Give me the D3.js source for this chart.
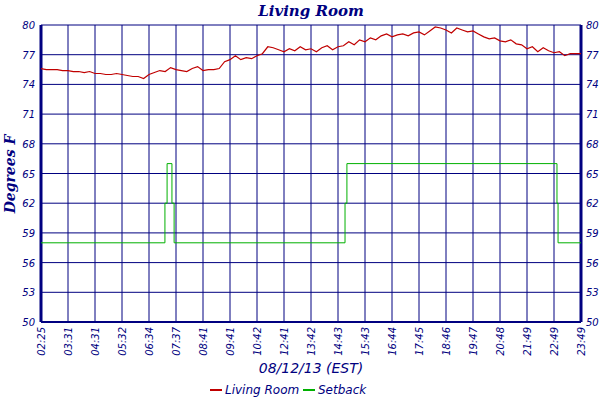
<!DOCTYPE html><html><head><meta charset="utf-8"><script src="https://d3js.org/d3.v7.min.js"></script>
<style>body{margin:0;background:#fff}</style></head><body><svg width="600" height="400"></svg>
<script>
const timeLabels=["02:25","03:31","04:31","05:32","06:34","07:37","08:41","09:41","10:42","12:41","13:42","14:43","15:43","16:44","17:45","18:46","19:47","20:48","21:49","22:49","23:49"];
const yTicks=[50,53,56,59,62,65,68,71,74,77,80];
const tempValues=[75.6,75.5,75.5,75.5,75.4,75.4,75.3,75.3,75.2,75.3,75.1,75.1,75.0,75.0,75.1,75.0,74.9,74.8,74.8,74.6,
75.0,75.2,75.4,75.3,75.7,75.5,75.4,75.3,75.6,75.8,75.4,75.5,75.5,75.6,76.3,76.5,76.9,76.5,76.7,76.6,
76.9,77.1,77.8,77.7,77.5,77.3,77.6,77.4,77.8,77.5,77.6,77.3,77.7,77.9,77.5,77.8,77.9,78.3,78.0,78.5,
78.3,78.7,78.5,78.9,79.1,78.8,79.0,79.1,78.9,79.2,79.3,79.0,79.4,79.8,79.7,79.5,79.2,79.7,79.5,79.3,
79.4,79.1,78.8,78.6,78.7,78.4,78.3,78.5,78.1,78.0,77.6,77.8,77.3,77.7,77.4,77.2,77.3,76.9,77.1,77.1,77.1];
const setbackX=[0,4.59,4.59,4.67,4.67,4.85,4.85,4.93,4.93,11.26,11.26,11.33,11.33,19.11,19.11,19.15,19.15,20];
const setbackY=[58,58,62,62,66,66,62,62,58,58,62,62,66,66,62,62,58,58];
const navy="#000080";
const svg=d3.select("svg");
const L=41,R=581,T=25,B=322;
const x=d3.scaleLinear().domain([0,20]).range([L,R]);
const y=d3.scaleLinear().domain([50,80]).range([B,T]);
const g=svg.append("g");
g.selectAll(".vg").data(d3.range(21)).join("line").attr("x1",d=>x(d)).attr("x2",d=>x(d)).attr("y1",T).attr("y2",B).attr("stroke",navy).attr("stroke-width",1);
g.selectAll(".hg").data(yTicks).join("line").attr("x1",L).attr("x2",R).attr("y1",d=>y(d)).attr("y2",d=>y(d)).attr("stroke",navy).attr("stroke-width",1);
g.append("line").attr("x1",L).attr("x2",L).attr("y1",T).attr("y2",B).attr("stroke",navy).attr("stroke-width",3);
g.append("line").attr("x1",R).attr("x2",R).attr("y1",T).attr("y2",B).attr("stroke",navy).attr("stroke-width",3);
g.append("line").attr("x1",L).attr("x2",R).attr("y1",B).attr("y2",B).attr("stroke",navy).attr("stroke-width",2);
const tf="italic 10px 'DejaVu Sans'";
g.selectAll(".yl").data(yTicks).join("text").attr("x",L-6).attr("y",d=>y(d)+4).attr("text-anchor","end").style("font",tf).attr("fill",navy).text(d=>d);
g.selectAll(".yr").data(yTicks).join("text").attr("x",R+5).attr("y",d=>y(d)+4).attr("text-anchor","start").style("font",tf).attr("fill",navy).text(d=>d);
g.selectAll(".xl").data(timeLabels).join("text").attr("transform",(d,i)=>`translate(${x(i)+4},${B+5}) rotate(-90)`).attr("text-anchor","end").style("font",tf).attr("fill",navy).text(d=>d);
const sb=setbackX.map((v,i)=>[v,setbackY[i]]);
g.append("path").datum(sb).attr("d",d3.line().x(d=>x(d[0])).y(d=>y(d[1]))).attr("fill","none").attr("stroke","#00b000").attr("stroke-width",1);
const tp=tempValues.map((v,i)=>[i*0.2,v]);
g.append("path").datum(tp).attr("d",d3.line().x(d=>x(d[0])).y(d=>y(d[1]))).attr("fill","none").attr("stroke","#c00000").attr("stroke-width",1.2);
svg.append("text").attr("x",311).attr("y",16).attr("text-anchor","middle").style("font","bold italic 15px 'DejaVu Serif'").attr("fill",navy).text("Living Room");
svg.append("text").attr("transform","translate(15,174) rotate(-90)").attr("text-anchor","middle").style("font","bold italic 14px 'DejaVu Serif'").attr("fill",navy).text("Degrees F");
svg.append("text").attr("x",311).attr("y",373).attr("text-anchor","middle").style("font","italic 14px 'DejaVu Sans'").attr("fill",navy).text("08/12/13 (EST)");
const lg=[["Living Room","#c00000",210],["Setback","#00b000",303]];
lg.forEach(([t,c,lx])=>{svg.append("line").attr("x1",lx).attr("x2",lx+12).attr("y1",390).attr("y2",390).attr("stroke",c).attr("stroke-width",2);
svg.append("text").attr("x",lx+15).attr("y",394).style("font","italic 12px 'DejaVu Sans'").attr("fill",navy).text(t);});
</script></body></html>
